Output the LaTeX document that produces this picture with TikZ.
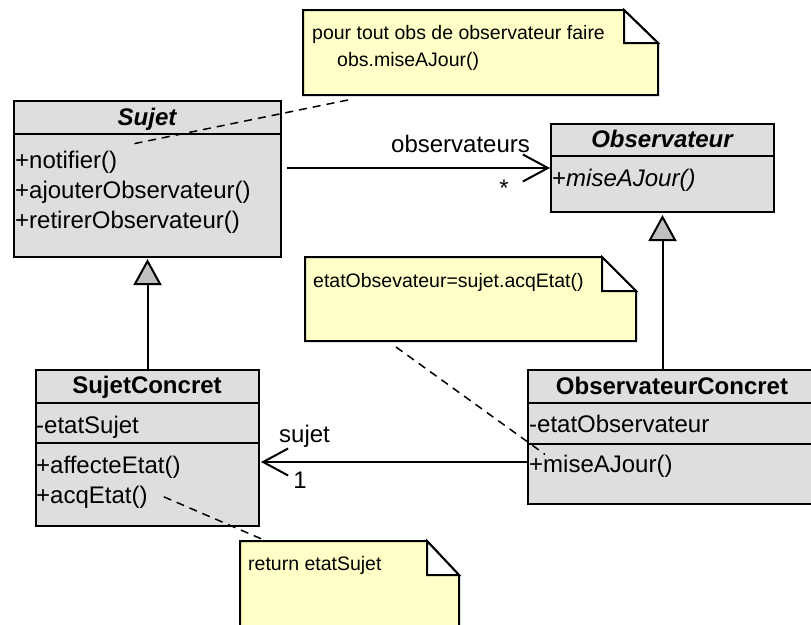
\documentclass[tikz,border=0pt]{standalone}
\usepackage{fontspec}
\setmainfont{Liberation Sans}
\usepackage{xcolor}
\usepackage{tikz}
\usetikzlibrary{arrows.meta}

\definecolor{classgray}{RGB}{222,222,222}
\definecolor{noteyellow}{RGB}{255,255,200}
\definecolor{trigray}{RGB}{192,192,192}

\begin{document}
\begin{tikzpicture}[x=1pt, y=-1pt,
		classbox/.style={draw, line width=2pt, fill=classgray, anchor=north west, inner sep=0pt},
		sepline/.style={line width=2pt},
		classname/.style={anchor=base, inner sep=0pt, font=\fontsize{24}{28}\selectfont\bfseries},
		member/.style={anchor=base west, inner sep=0pt, font=\fontsize{24}{28}\selectfont},
		rolename/.style={inner sep=0pt, font=\fontsize{24}{28}\selectfont},
		notebox/.style={draw, line width=2pt, fill=noteyellow, line join=miter},
		notetext/.style={anchor=base west, inner sep=0pt, font=\fontsize{19.5}{23}\selectfont},
		notelink/.style={line width=1.5pt, dash pattern=on 8pt off 6pt},
		assoc/.style={line width=2pt, -{Straight Barb[length=25pt, width=27pt]}},
		inherit/.style={line width=2pt, -{Triangle[length=26pt, width=28pt, fill=trigray]}}]
		\useasboundingbox (0,0) rectangle (811,624);

		% Classes
		\node[classbox, minimum width=267pt, minimum height=156pt] (sujet) at (13,100) {};
		\draw[sepline] (13,134) -- (280,134);
		\node[classname] (sujetname) at (147,125) {\itshape Sujet};
		\node[member] (notif) at (15,168) {+notifier()};
		\node[member] (ajout) at (15,198) {+ajouterObservateur()};
		\node[member] (retir) at (15,228) {+retirerObservateur()};

		\node[classbox, minimum width=223pt, minimum height=88pt] (obs) at (550,123) {};
		\draw[sepline] (550,156) -- (773,156);
		\node[classname] (obsname) at (662,147) {\itshape Observateur};
		\node[member] (omaj) at (552,186) {+\textit{miseAJour()}};

		\node[classbox, minimum width=223pt, minimum height=156pt] (sujc) at (35,369) {};
		\draw[sepline] (35,403) -- (258,403);
		\draw[sepline] (35,443) -- (258,443);
		\node[classname] (sujcname) at (147,393) {SujetConcret};
		\node[member] (etats) at (36,433) {-etatSujet};
		\node[member] (affec) at (36,473) {+affecteEtat()};
		\node[member] (acq) at (36,503) {+acqEtat()};

		\node[classbox, minimum width=290pt, minimum height=134pt] (obsc) at (527,369) {};
		\draw[sepline] (527,403) -- (817,403);
		\draw[sepline] (527,444) -- (817,444);
		\node[classname] (obscname) at (672,394) {ObservateurConcret};
		\node[member] (etato) at (529,432) {-etatObservateur};
		\node[member] (ocmaj) at (529,472) {+miseAJour()};

		% Associations
		\draw[assoc, shorten <=5pt] (sujet.east |- obs.west) -- (obs.west);
		\node[rolename, anchor=base west] (robs) at (391,152) {observateurs};
		\node[rolename] (mobs) at (504,188) {*};

		\draw[assoc] ([yshift=-25pt]obsc.west) -- ([xshift=1pt, yshift=-14pt]sujc.east);
		\node[rolename, anchor=base west] (rsuj) at (279,442) {sujet};
		\node[rolename] (msuj) at (300,480) {1};

		% Generalisations
		\draw[inherit, shorten >=1pt] (sujc.north) -- (sujet.south);
		\draw[inherit, shorten >=2pt] (obsc.north -| obs.south) -- (obs.south);

		% Notes
		\draw[notebox] (303,10) -- (624,10) -- (658,43) -- (658,95) -- (303,95) -- cycle;
		\draw[notebox, fill=white] (624,10) -- (624,43) -- (658,43) -- cycle;
		\node[notetext] (note1a) at (312,39) {pour tout obs de observateur faire};
		\node[notetext] (note1b) at (337,66) {obs.miseAJour()};
		\coordinate (n1foot) at (348,100);

		\draw[notebox] (305,257) -- (602,257) -- (636,291) -- (636,341) -- (305,341) -- cycle;
		\draw[notebox, fill=white] (602,257) -- (602,291) -- (636,291) -- cycle;
		\node[notetext] (note2) at (313,287) {etatObsevateur=sujet.acqEtat()};
		\coordinate (n2foot) at (396,347);

		\draw[notebox] (240,541) -- (427,541) -- (459,575) -- (459,640) -- (240,640) -- cycle;
		\draw[notebox, fill=white] (427,541) -- (427,575) -- (459,575) -- cycle;
		\node[notetext] (note3) at (248,570) {return etatSujet};
		\coordinate (n3top) at (264,540);

		% Note links
		\draw[notelink] (n1foot) -- ([xshift=13pt, yshift=6pt]notif.north east);
		\draw[notelink] (n2foot) -- ([xshift=16pt]ocmaj.north west);
		\draw[notelink] ([xshift=16pt]acq.east) -- (n3top);
	\end{tikzpicture}
\end{document}
